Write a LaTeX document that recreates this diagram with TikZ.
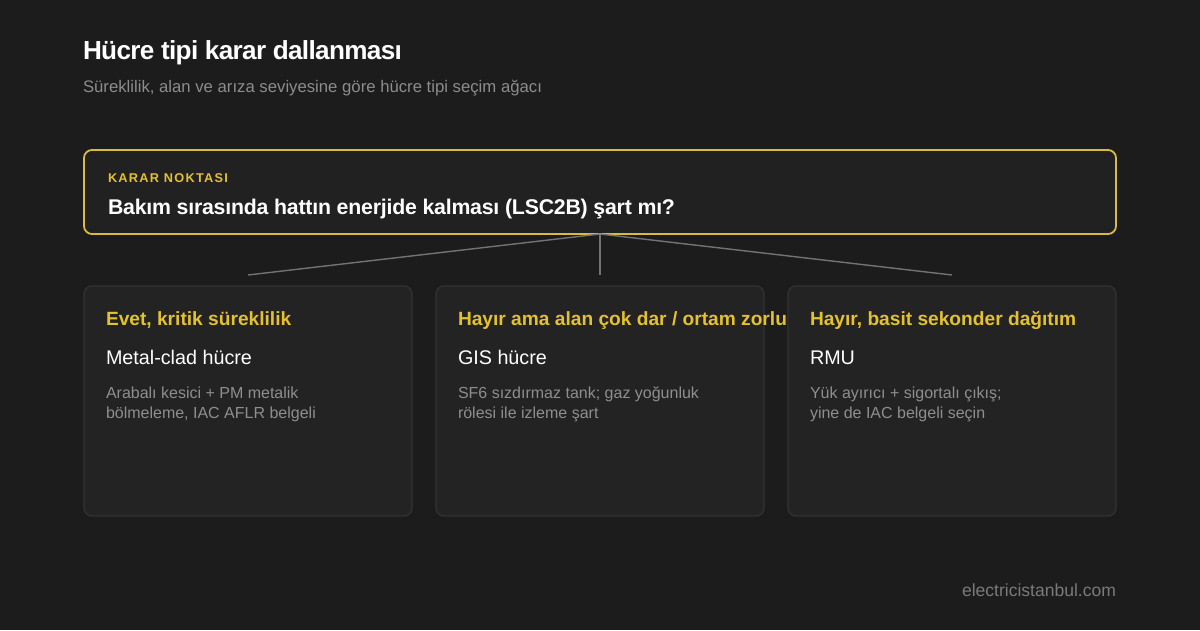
\documentclass[tikz,border=0pt]{standalone}
\usepackage{fontspec}
\setmainfont{Liberation Sans}
\definecolor{bg}{HTML}{1C1C1C}
\definecolor{cardfill}{HTML}{232323}
\definecolor{cardline}{HTML}{333333}
\definecolor{decfill}{HTML}{212121}
\definecolor{gold}{HTML}{E3C12F}
\definecolor{goldline}{HTML}{D9BA45}
\definecolor{subgray}{HTML}{8C8C8C}
\definecolor{descgray}{HTML}{8E8E8E}
\definecolor{footgray}{HTML}{7A7A7A}
\definecolor{conn}{HTML}{737373}
\newlength\fitlen
\newcommand\fitsz[4]{\settowidth\fitlen{\normalfont#1\fontsize{10pt}{12pt}\selectfont #2}\pgfmathsetmacro#4{10*#3/\fitlen}}
\tikzset{
  txt/.style={inner sep=0pt, outer sep=0pt, anchor=base west},
  cardbox/.style={draw=cardline, fill=cardfill, line width=1.2pt, rounded corners=8pt,
    minimum width=328pt, minimum height=230pt, inner sep=0pt, outer sep=0pt},
  decbox/.style={draw=goldline, fill=decfill, line width=1.8pt, rounded corners=8pt,
    minimum width=1032pt, minimum height=84pt, inner sep=0pt, outer sep=0pt},
  connector/.style={draw=conn, line width=1.4pt},
}
\begin{document}
\fitsz{\bfseries\addfontfeature{LetterSpace=-2.5}}{Hücre tipi karar dallanması}{319}{\szTitle}%
\fitsz{}{Süreklilik, alan ve arıza seviyesine göre hücre tipi seçim ağacı}{459}{\szSub}%
\fitsz{\bfseries\addfontfeature{LetterSpace=-1}}{Bakım sırasında hattın enerjide kalması (LSC2B) şart mı?}{567}{\szQ}%
\fitsz{\bfseries\addfontfeature{LetterSpace=10}}{KARAR NOKTASI}{120}{\szKN}%
\fitsz{\bfseries}{Hayır ama alan çok dar / ortam zorlu}{329}{\szHead}%
\fitsz{}{Metal-clad hücre}{146}{\szName}%
\fitsz{}{SF6 sızdırmaz tank; gaz yoğunluk}{241}{\szDesc}%
\fitsz{}{electricistanbul.com}{154}{\szFoot}%
\begin{tikzpicture}[x=1pt,y=-1pt]
\fill[bg] (0,0) rectangle (1200,630);
\useasboundingbox (0,0) rectangle (1200,630);
% header
\node[txt, text=white, font=\bfseries\addfontfeature{LetterSpace=-2.5}\fontsize{\szTitle pt}{\szTitle pt}\selectfont] (title) at (83,59.5) {Hücre tipi karar dallanması};
\node[txt, text=subgray, font=\fontsize{\szSub pt}{\szSub pt}\selectfont] (subtitle) at (83,92.3) {Süreklilik, alan ve arıza seviyesine göre hücre tipi seçim ağacı};
% decision box
\node[decbox] (dec) at (600,192) {};
\node[txt, text=gold, font=\bfseries\addfontfeature{LetterSpace=10}\fontsize{\szKN pt}{\szKN pt}\selectfont] (kn) at (108,182) {KARAR NOKTASI};
\node[txt, text=white, font=\bfseries\addfontfeature{LetterSpace=-1}\fontsize{\szQ pt}{\szQ pt}\selectfont] (q) at (108,214) {Bakım sırasında hattın enerjide kalması (LSC2B) şart mı?};
% cards
\node[cardbox] (c1) at (248,401) {};
\node[cardbox] (c2) at (600,401) {};
\node[cardbox] (c3) at (952,401) {};
% connectors
\coordinate (e1) at ([yshift=11pt]c1.north);
\coordinate (e2) at ([yshift=11pt]c2.north);
\coordinate (e3) at ([yshift=11pt]c3.north);
\draw[connector] (dec.south) -- (e1);
\draw[connector] (dec.south) -- (e2);
\draw[connector] (dec.south) -- (e3);
% card texts
\tikzset{
  headtxt/.style={txt, text=gold, font=\bfseries\fontsize{\szHead pt}{\szHead pt}\selectfont},
  nametxt/.style={txt, text=white, font=\fontsize{\szName pt}{\szName pt}\selectfont},
  desctxt/.style={txt, text=descgray, font=\fontsize{\szDesc pt}{\szDesc pt}\selectfont},
}
\node[headtxt] (h1) at (106,325.7) {Evet, kritik süreklilik};
\node[nametxt] (n1) at (106,364) {Metal-clad hücre};
\node[desctxt] (d1a) at (106,398.3) {Arabalı kesici + PM metalik};
\node[desctxt] (d1b) at (106,418) {bölmeleme, IAC AFLR belgeli};
\node[headtxt] (h2) at (458,325.7) {Hayır ama alan çok dar / ortam zorlu};
\node[nametxt] (n2) at (458,364) {GIS hücre};
\node[desctxt] (d2a) at (458,398.3) {SF6 sızdırmaz tank; gaz yoğunluk};
\node[desctxt] (d2b) at (458,418) {rölesi ile izleme şart};
\node[headtxt] (h3) at (810,325.7) {Hayır, basit sekonder dağıtım};
\node[nametxt] (n3) at (810,364) {RMU};
\node[desctxt] (d3a) at (810,398.3) {Yük ayırıcı + sigortalı çıkış;};
\node[desctxt] (d3b) at (810,418) {yine de IAC belgeli seçin};
% footer
\node[txt, anchor=base east, text=footgray, font=\fontsize{\szFoot pt}{\szFoot pt}\selectfont] (foot) at (1116,596) {electricistanbul.com};
\end{tikzpicture}
\end{document}
